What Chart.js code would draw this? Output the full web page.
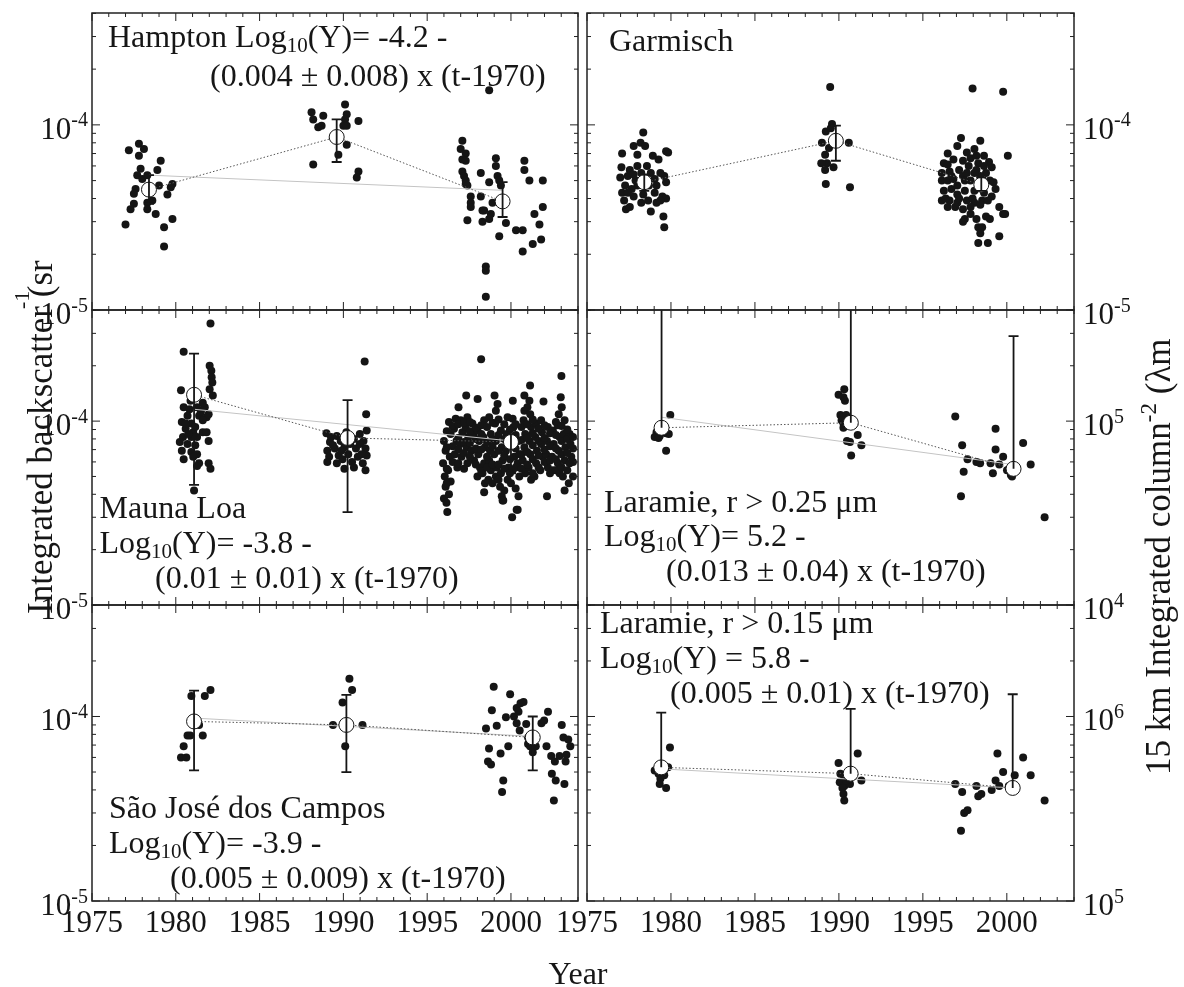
<!DOCTYPE html>
<html>
<head>
<meta charset="utf-8">
<script src="https://cdn.jsdelivr.net/npm/chart.js@4.4.0/dist/chart.umd.min.js"></script>
<style>
  html, body { margin: 0; padding: 0; background: #fff; }
  #wrap { position: relative; width: 1184px; height: 987px; }
  #wrap canvas { position: absolute; left: 0; top: 0; }
</style>
</head>
<body>
<div id="wrap">
  <canvas id="hampton" width="1184" height="987"></canvas>
  <canvas id="garmisch" width="1184" height="987"></canvas>
  <canvas id="maunaloa" width="1184" height="987"></canvas>
  <canvas id="laramie25" width="1184" height="987"></canvas>
  <canvas id="saojose" width="1184" height="987"></canvas>
  <canvas id="laramie15" width="1184" height="987"></canvas>
</div>
<script>
/* ===========================
   DATA  [year, value]
=========================== */

const yearTicks = [1975, 1980, 1985, 1990, 1995, 2000];

// Hampton, integrated backscatter (sr-1)
const hamptonPoints = [
  [1977.2,7.3e-5],[1977.8,7.9e-5],[1977.8,6.8e-5],[1978.1,7.4e-5],[1977.9,5.8e-5],[1977.7,5.35e-5],[1978.0,5.1e-5],
  [1977.6,4.5e-5],[1977.5,4.25e-5],[1977.5,3.75e-5],[1977.3,3.5e-5],[1977.0,2.9e-5],[1978.3,5.35e-5],[1978.9,5.7e-5],
  [1979.1,6.4e-5],[1979.0,4.7e-5],[1979.5,4.2e-5],[1979.8,4.8e-5],[1979.7,4.6e-5],[1979.8,3.1e-5],[1979.3,2.8e-5],
  [1979.3,2.2e-5],[1978.3,3.8e-5],[1978.6,3.9e-5],[1978.3,3.5e-5],[1978.8,3.3e-5],
  [1988.1,1.17e-4],[1988.2,1.07e-4],[1988.8,1.12e-4],[1988.5,9.7e-5],[1988.7,9.9e-5],[1990.1,1.29e-4],[1990.2,1.14e-4],
  [1990.1,1.07e-4],[1990.0,9.9e-5],[1990.2,9.9e-5],[1990.9,1.05e-4],[1990.2,7.8e-5],[1989.7,6.9e-5],[1988.2,6.1e-5],
  [1990.9,5.6e-5],[1990.8,5.2e-5],
  [1997.1,8.2e-5],[1997.0,7.4e-5],[1997.3,7.0e-5],[1997.1,6.5e-5],[1997.3,6.4e-5],[1997.1,5.6e-5],[1997.2,5.3e-5],
  [1997.3,5.0e-5],[1997.3,4.8e-5],[1997.4,4.7e-5],[1997.6,4.1e-5],[1997.6,3.8e-5],[1997.6,3.6e-5],[1997.4,3.05e-5],
  [1998.2,5.5e-5],[1998.2,4.1e-5],[1998.3,3.45e-5],[1998.4,3.45e-5],[1998.3,3.0e-5],[1998.7,3.1e-5],[1998.8,3.3e-5],
  [1998.7,4.9e-5],[1999.1,6.6e-5],[1999.1,6.0e-5],[1999.2,5.3e-5],[1999.3,5.0e-5],[1999.4,4.7e-5],[1998.9,3.8e-5],
  [1999.7,2.95e-5],[1999.3,2.5e-5],[1998.5,1.72e-5],[1998.5,1.63e-5],[1998.5,1.18e-5],[1998.7,1.54e-4],[2000.8,6.4e-5],
  [2000.8,5.7e-5],[2001.1,5.0e-5],[2001.9,5.0e-5],[2001.9,3.6e-5],[2001.4,3.3e-5],[2001.7,2.9e-5],[2000.7,2.7e-5],
  [2000.3,2.7e-5],[2000.7,2.07e-5],[2001.3,2.27e-5],[2001.8,2.4e-5]
];
const hamptonMeans = [[1978.4,4.47e-5],[1989.6,8.6e-5],[1999.5,3.86e-5]];
const hamptonErrors = [[3.75e-5,5.35e-5],[6.3e-5,1.07e-4],[3.18e-5,4.9e-5]];
const hamptonTrend = [[1978.4,5.35e-5],[1999.5,4.43e-5]];

// Garmisch
const garmischPoints = [
  [1978.35,9.1e-5],[1977.78,7.7e-5],[1978.19,8.0e-5],[1978.0,6.9e-5],[1977.09,7.0e-5],[1977.05,5.9e-5],[1976.98,5.2e-5],
  [1977.43,5.3e-5],[1977.27,4.7e-5],[1977.09,4.3e-5],[1977.21,3.9e-5],[1977.32,3.5e-5],[1977.55,3.6e-5],[1977.78,4.1e-5],
  [1978.0,4.7e-5],[1978.23,5.5e-5],[1978.57,6.0e-5],[1978.8,5.5e-5],[1979.03,5.1e-5],[1979.26,6.5e-5],[1979.71,7.2e-5],
  [1979.83,7.1e-5],[1979.6,5.3e-5],[1979.71,4.9e-5],[1979.49,4.1e-5],[1979.71,4.0e-5],[1979.14,3.8e-5],[1978.8,3.4e-5],
  [1978.64,3.9e-5],[1978.35,4.2e-5],[1977.89,5.0e-5],[1977.66,4.5e-5],[1977.55,5.7e-5],[1979.14,4.7e-5],[1979.37,5.5e-5],
  [1979.55,3.2e-5],[1979.6,2.8e-5],[1978.92,6.8e-5],[1978.46,7.7e-5],[1978.69,4.7e-5],[1978.23,3.8e-5],[1979.03,4.3e-5],
  [1978.0,6.0e-5],[1977.43,4.3e-5],[1977.78,5.4e-5],[1979.37,3.9e-5],[1978.51,5.0e-5],
  [1989.48,1.6e-4],[1989.59,1.01e-4],[1989.22,9.2e-5],[1989.52,9.6e-5],[1988.99,8.0e-5],[1990.59,8.0e-5],[1989.18,6.9e-5],
  [1989.29,6.2e-5],[1988.95,6.2e-5],[1989.18,5.7e-5],[1989.68,5.9e-5],[1989.22,4.8e-5],[1990.66,4.6e-5],[1989.41,7.5e-5],
  [1997.96,1.57e-4],[1999.78,1.51e-4],[2000.06,6.8e-5],
  [1997.27,8.5e-5],[1998.42,8.2e-5],[1997.05,7.7e-5],[1998.07,7.4e-5],[1998.64,6.8e-5],[1996.48,7.0e-5],[1997.62,7.1e-5],
  [1998.94,6.3e-5],[1999.1,5.9e-5],[1996.25,6.2e-5],[1996.82,6.5e-5],[1997.39,6.4e-5],[1997.84,6.6e-5],[1998.3,6.2e-5],
  [1996.13,5.5e-5],[1996.59,5.6e-5],[1997.16,5.7e-5],[1997.73,6.0e-5],[1998.19,5.7e-5],[1998.76,5.5e-5],[1999.21,4.9e-5],
  [1996.13,5.0e-5],[1996.48,5.0e-5],[1996.82,5.1e-5],[1997.39,5.3e-5],[1997.84,5.0e-5],[1998.42,5.3e-5],[1998.99,5.0e-5],
  [1996.25,4.4e-5],[1996.7,4.5e-5],[1997.05,4.2e-5],[1997.5,4.4e-5],[1998.07,4.4e-5],[1998.64,4.3e-5],[1996.13,3.9e-5],
  [1996.59,3.9e-5],[1997.05,3.8e-5],[1997.62,3.9e-5],[1998.07,3.8e-5],[1998.53,3.9e-5],[1999.1,4.1e-5],[1996.48,3.6e-5],
  [1996.93,3.6e-5],[1997.39,3.5e-5],[1997.84,3.6e-5],[1998.42,3.7e-5],[1999.55,3.6e-5],[1999.78,3.3e-5],[1999.9,3.3e-5],
  [1997.5,3.1e-5],[1997.39,3.0e-5],[1998.19,3.1e-5],[1998.76,3.2e-5],[1998.99,3.1e-5],[1998.3,2.8e-5],[1998.53,2.8e-5],
  [1998.42,2.6e-5],[1998.3,2.3e-5],[1998.87,2.3e-5],[1999.55,2.5e-5],[1997.84,3.3e-5],[1997.16,4.0e-5],[1996.36,4.0e-5],
  [1998.87,3.9e-5],[1999.33,4.5e-5],[1998.07,5.5e-5],[1997.5,5.0e-5],[1998.53,4.7e-5],[1996.7,5.3e-5],[1997.05,4.7e-5],
  [1997.96,4.0e-5],[1996.48,6.1e-5],[1997.62,5.5e-5],[1998.19,6.8e-5],[1998.64,6.0e-5]
];
const garmischMeans = [[1978.41,4.9e-5],[1989.82,8.2e-5],[1998.48,4.75e-5]];
const garmischErrors = [[4.4e-5,5.4e-5],[6.4e-5,9.9e-5],[4.4e-5,5.2e-5]];

// Mauna Loa
const maunaLoaPoints = [
  [1982.07,3.39e-4],[1980.47,2.38e-4],[1982.02,2.0e-4],[1982.12,1.88e-4],[1982.14,1.73e-4],[1982.18,1.62e-4],[1982.02,1.49e-4],
  [1980.31,1.47e-4],[1982.21,1.38e-4],[1980.47,1.19e-4],[1980.82,1.16e-4],[1981.27,1.19e-4],[1981.73,1.19e-4],[1980.7,1.07e-4],
  [1981.39,1.07e-4],[1981.84,1.05e-4],[1980.36,9.9e-5],[1980.93,9.7e-5],[1981.61,1.01e-4],[1981.96,1.09e-4],[1980.59,9.1e-5],
  [1981.04,8.7e-5],[1981.61,8.7e-5],[1980.43,8.2e-5],[1980.93,8.2e-5],[1981.27,8.2e-5],[1981.84,8.7e-5],[1980.24,7.7e-5],
  [1980.7,7.5e-5],[1981.16,7.4e-5],[1981.96,7.8e-5],[1980.36,6.9e-5],[1980.93,6.8e-5],[1981.27,6.6e-5],[1980.47,6.2e-5],
  [1981.04,6.4e-5],[1981.39,5.9e-5],[1981.96,5.9e-5],[1982.07,5.5e-5],[1981.27,5.7e-5],[1981.09,4.2e-5],[1980.88,1.29e-4],
  [1981.61,1.26e-4],[1981.5,1.12e-4],[1980.75,8.5e-5],[1980.59,9.7e-5],[1981.16,9.3e-5],
  [1991.27,2.11e-4],[1991.36,1.09e-4],[1988.99,8.6e-5],[1989.61,8.3e-5],[1990.18,8.7e-5],[1990.98,8.5e-5],[1991.39,8.9e-5],
  [1989.2,7.7e-5],[1989.84,7.8e-5],[1990.63,8.0e-5],[1991.2,7.8e-5],[1989.04,6.9e-5],[1989.49,7.1e-5],[1990.06,7.2e-5],
  [1990.75,7.1e-5],[1991.32,7.1e-5],[1989.15,6.4e-5],[1989.72,6.5e-5],[1990.29,6.6e-5],[1990.86,6.4e-5],[1991.39,6.5e-5],
  [1989.04,6.0e-5],[1989.61,5.9e-5],[1990.06,5.5e-5],[1990.52,6.0e-5],[1991.16,5.9e-5],[1991.32,5.4e-5],[1989.38,7.4e-5],
  [1990.41,7.5e-5],[1990.98,7.5e-5],[1989.95,6.2e-5],[1990.63,5.6e-5],[1989.26,8.2e-5],[1991.09,6.6e-5],[1989.88,6.9e-5],
  [1998.22,2.17e-4],[2003.01,1.76e-4],[2001.14,1.56e-4],[1997.33,1.38e-4],[1999.02,1.38e-4],[2000.8,1.38e-4],[2002.97,1.35e-4],
  [1998.01,1.32e-4],[1996.87,1.19e-4],[2001.94,1.28e-4],[1999.2,1.24e-4],[2000.11,1.29e-4],[2003.03,1.19e-4],[2000.98,1.19e-4],
  [2000.07,3.0e-5],[1999.54,3.7e-5],[2000.34,3.3e-5],
  [1996.0,7.8e-5],[1996.1,6.9e-5],[1995.95,5.9e-5],[1996.05,5.0e-5],[1996.1,4.4e-5],[1996.0,3.8e-5],[1996.15,3.6e-5],[1996.2,3.2e-5],
  [1996.3,9.9e-5],[1996.4,8.5e-5],[1996.35,6.4e-5],[1996.25,5.4e-5],[1996.4,4.7e-5],[1996.3,4.0e-5],
  [1996.7,1.03e-4],[1996.6,9.1e-5],[1996.75,7.8e-5],[1996.65,6.6e-5],[1996.8,5.6e-5],
  [1997.0,1.01e-4],[1997.1,8.7e-5],[1996.95,7.5e-5],[1997.05,6.4e-5],
  [1997.4,1.05e-4],[1997.3,9.3e-5],[1997.45,8.2e-5],[1997.35,7.2e-5],[1997.4,5.9e-5],
  [1997.7,9.7e-5],[1997.75,8.5e-5],[1997.65,6.9e-5],[1997.8,6.1e-5],
  [1998.0,8.9e-5],[1998.1,7.8e-5],[1998.05,6.6e-5],[1998.15,5.6e-5],[1998.0,5.0e-5],
  [1998.4,1.01e-4],[1998.35,8.2e-5],[1998.45,7.2e-5],[1998.4,5.9e-5],[1998.3,5.2e-5],[1998.45,4.6e-5],[1998.4,4.1e-5],
  [1998.7,1.05e-4],[1998.8,8.5e-5],[1998.75,6.9e-5],[1998.7,6.1e-5],[1998.8,5.4e-5],[1998.65,4.8e-5],
  [1999.1,1.14e-4],[1999.05,9.7e-5],[1999.1,7.8e-5],[1999.0,6.6e-5],[1999.15,5.6e-5],[1999.1,5.0e-5],
  [1999.4,8.9e-5],[1999.45,7.2e-5],[1999.5,6.1e-5],[1999.4,5.2e-5],[1999.35,4.4e-5],[1999.45,3.9e-5],[1999.5,3.7e-5],
  [1999.8,1.05e-4],[1999.75,8.5e-5],[1999.7,6.9e-5],[1999.85,5.6e-5],[1999.8,4.8e-5],
  [2000.1,1.03e-4],[2000.15,9.3e-5],[2000.05,7.5e-5],[2000.2,6.4e-5],[2000.1,5.4e-5],[2000.0,4.6e-5],
  [2000.45,7.8e-5],[2000.5,6.6e-5],[2000.4,5.9e-5],[2000.5,5.0e-5],[2000.45,3.9e-5],[2000.4,3.3e-5],
  [2000.8,1.14e-4],[2000.75,1.01e-4],[2000.85,8.5e-5],[2000.8,7.2e-5],[2000.7,6.1e-5],[2000.85,5.2e-5],
  [2001.1,1.29e-4],[2001.15,1.09e-4],[2001.2,9.3e-5],[2001.1,7.8e-5],[2001.15,6.6e-5],[2001.05,5.6e-5],[2001.2,4.8e-5],
  [2001.5,9.7e-5],[2001.45,8.2e-5],[2001.55,6.9e-5],[2001.5,5.9e-5],[2001.4,5.0e-5],
  [2001.8,1.01e-4],[2001.85,8.7e-5],[2001.8,7.5e-5],[2001.9,6.4e-5],[2001.75,5.4e-5],
  [2002.2,9.3e-5],[2002.15,7.8e-5],[2002.1,6.6e-5],[2002.2,5.6e-5],[2002.15,3.9e-5],
  [2002.5,8.9e-5],[2002.55,7.5e-5],[2002.45,6.4e-5],[2002.5,5.4e-5],
  [2002.85,1.09e-4],[2002.8,9.5e-5],[2002.9,8.2e-5],[2002.85,6.9e-5],[2002.8,5.9e-5],[2002.9,5.2e-5],
  [2003.2,1.01e-4],[2003.15,8.5e-5],[2003.25,7.2e-5],[2003.2,6.1e-5],[2003.1,5.0e-5],[2003.2,4.2e-5],
  [2003.5,8.5e-5],[2003.55,7.5e-5],[2003.6,6.4e-5],[2003.5,5.9e-5],[2003.45,4.6e-5],
  [1996.17,8.8e-5],[1996.17,7.2e-5],[1996.17,5.5e-5],[1996.17,4.6e-5],[1996.52,9.4e-5],[1996.52,7.3e-5],[1996.52,6.0e-5],
  [1996.86,9.6e-5],[1996.86,8.1e-5],[1996.86,7.0e-5],[1996.86,5.9e-5],[1997.2,9.8e-5],[1997.2,7.7e-5],[1997.2,6.7e-5],[1997.2,5.5e-5],
  [1997.55,9.9e-5],[1997.55,8.8e-5],[1997.55,7.6e-5],[1997.55,6.4e-5],[1997.9,9.2e-5],[1997.9,8.0e-5],[1997.9,7.1e-5],[1997.9,5.8e-5],
  [1998.23,9.5e-5],[1998.23,8.5e-5],[1998.23,7.0e-5],[1998.23,5.3e-5],[1998.57,9.3e-5],[1998.57,7.7e-5],[1998.57,6.4e-5],[1998.57,5.6e-5],
  [1998.9,9.8e-5],[1998.9,8.0e-5],[1998.9,7.3e-5],[1998.9,5.8e-5],[1998.9,4.6e-5],[1999.26,1.02e-4],[1999.26,8.4e-5],[1999.26,6.9e-5],
  [1999.26,5.8e-5],[1999.26,4.8e-5],[1999.6,9.6e-5],[1999.6,8.0e-5],[1999.6,6.5e-5],[1999.6,5.5e-5],[1999.6,4.2e-5],
  [1999.94,9.0e-5],[1999.94,7.9e-5],[1999.94,6.2e-5],[1999.94,5.2e-5],[2000.28,9.6e-5],[2000.28,8.4e-5],[2000.28,7.1e-5],
  [2000.28,5.6e-5],[2000.28,4.3e-5],[2000.63,9.3e-5],[2000.63,7.9e-5],[2000.63,6.6e-5],[2000.63,5.5e-5],
  [2000.97,9.6e-5],[2000.97,8.1e-5],[2000.97,6.8e-5],[2000.97,5.8e-5],[2001.3,1.02e-4],[2001.3,8.6e-5],[2001.3,7.4e-5],
  [2001.3,6.2e-5],[2001.3,5.2e-5],[2001.65,9.1e-5],[2001.65,7.8e-5],[2001.65,6.5e-5],[2001.65,5.6e-5],
  [2002.0,9.5e-5],[2002.0,8.1e-5],[2002.0,7.0e-5],[2002.0,6.0e-5],[2002.33,8.6e-5],[2002.33,7.3e-5],[2002.33,6.1e-5],[2002.33,5.2e-5],
  [2002.68,9.9e-5],[2002.68,8.4e-5],[2002.68,7.1e-5],[2002.68,6.2e-5],[2002.68,5.4e-5],[2003.02,9.4e-5],[2003.02,7.8e-5],
  [2003.02,6.6e-5],[2003.02,5.6e-5],[2003.36,9.0e-5],[2003.36,8.0e-5],[2003.36,6.7e-5],[2003.36,5.4e-5],
  [2003.7,8.2e-5],[2003.7,7.1e-5],[2003.7,6.0e-5],[2003.7,5.0e-5]
];
const maunaLoaMeans = [[1981.09,1.39e-4],[1990.25,8.1e-5],[2000.0,7.7e-5]];
const maunaLoaErrors = [[4.5e-5,2.33e-4],[3.2e-5,1.3e-4],[5.2e-5,8.9e-5]];
const maunaLoaTrend = [[1981.09,1.16e-4],[2000.0,7.8e-5]];

// Laramie r > 0.25 um, 15 km integrated column (cm-2)
const laramie25Points = [
  [1979.03,8.2e4],[1979.26,8.1e4],[1979.14,8.7e4],[1979.37,9.1e4],[1979.49,9.2e4],[1979.71,8.6e4],[1979.87,8.5e4],
  [1979.96,1.08e5],[1979.71,6.9e4],[1979.33,8.3e4],[1979.55,8.7e4],
  [1990.32,1.49e5],[1989.98,1.39e5],[1990.27,1.35e5],[1990.36,1.29e5],[1990.09,1.08e5],[1990.32,1.05e5],[1990.43,1.08e5],
  [1990.16,1.01e5],[1990.55,9.9e4],[1990.27,9.2e4],[1990.77,9.5e4],[1990.89,9.6e4],[1991.12,8.4e4],[1990.48,7.8e4],
  [1990.66,7.7e4],[1991.34,7.4e4],[1990.73,6.5e4],[1990.27,9.7e4],
  [1996.93,1.06e5],[1997.34,7.4e4],[1997.66,6.2e4],[1997.43,5.3e4],[1997.27,3.9e4],[1998.19,6.0e4],[1998.41,5.9e4],
  [1999.03,5.9e4],[1999.33,9.1e4],[1999.33,7.0e4],[1999.17,5.2e4],[1999.55,5.8e4],[1999.78,6.4e4],[2000.01,5.4e4],
  [2000.24,5.1e4],[2000.4,5.7e4],[2000.53,5.6e4],[2000.31,5.0e4],[2000.97,7.6e4],[2001.42,5.8e4],[2002.25,3.0e4]
];
const laramie25Means = [[1979.44,9.2e4],[1990.71,9.8e4],[2000.4,5.5e4]];
const laramie25Errors = [[9.2e4,1e6],[9.8e4,1e6],[5.5e4,2.9e5]];
const laramie25Trend = [[1979.44,1.05e5],[2000.4,5.8e4]];

// Sao Jose dos Campos
const saoJosePoints = [
  [1980.93,1.29e-4],[1981.73,1.29e-4],[1982.07,1.39e-4],[1981.39,9.0e-5],[1981.61,7.9e-5],[1980.7,7.9e-5],[1980.86,7.9e-5],
  [1980.47,6.9e-5],[1980.31,6.0e-5],[1980.63,6.0e-5],
  [1989.95,1.19e-4],[1990.36,1.6e-4],[1990.52,1.39e-4],[1989.38,9.0e-5],[1991.14,9.0e-5],[1990.11,6.9e-5],
  [1998.97,1.45e-4],[1999.95,1.32e-4],[1998.86,1.08e-4],[2000.34,1.11e-4],[2000.57,1.18e-4],[2000.75,1.2e-4],[2000.18,1.0e-4],
  [2000.45,1.06e-4],[1999.7,9.9e-5],[1999.15,8.9e-5],[1998.51,8.6e-5],[2000.34,9.2e-5],[2000.52,8.4e-5],[2000.91,9.1e-5],
  [2001.82,9.2e-5],[2001.98,9.5e-5],[2002.21,1.06e-4],[2003.03,9.0e-5],[1998.69,6.7e-5],[1999.84,6.9e-5],[1999.38,6.3e-5],
  [1998.63,5.7e-5],[1998.81,5.5e-5],[1999.54,4.5e-5],[1999.47,3.9e-5],[2001.02,7.1e-5],[2001.14,6.9e-5],[2001.3,6.4e-5],
  [2001.48,6.9e-5],[2002.12,6.9e-5],[2002.4,6.1e-5],[2002.62,5.7e-5],[2002.9,6.1e-5],[2003.13,7.7e-5],[2003.42,7.5e-5],
  [2003.54,6.9e-5],[2003.31,6.2e-5],[2003.26,5.7e-5],[2002.44,4.9e-5],[2002.67,4.5e-5],[2003.19,4.3e-5],[2002.56,3.5e-5],
  [2001.37,7.5e-5],[2001.02,7.7e-5]
];
const saoJoseMeans = [[1981.09,9.4e-5],[1990.18,9.0e-5],[2001.3,7.7e-5]];
const saoJoseErrors = [[5.1e-5,1.38e-4],[5.0e-5,1.31e-4],[5.1e-5,1.0e-4]];
const saoJoseTrend = [[1981.09,9.8e-5],[2001.3,7.8e-5]];

// Laramie r > 0.15 um
const laramie15Points = [
  [1979.03,5.1e5],[1979.26,4.9e5],[1979.37,4.6e5],[1979.55,5.0e5],[1979.33,4.3e5],[1979.71,4.1e5],[1979.83,5.3e5],
  [1979.94,6.8e5],[1979.6,4.8e5],
  [1989.98,5.6e5],[1990.09,4.9e5],[1990.32,4.7e5],[1990.55,4.6e5],[1990.82,4.8e5],[1990.05,4.4e5],[1990.32,4.2e5],
  [1990.66,4.3e5],[1990.21,4.1e5],[1990.27,3.8e5],[1990.32,3.5e5],[1991.12,6.3e5],[1991.34,4.5e5],[1990.43,4.5e5],
  [1996.93,4.3e5],[1997.34,3.9e5],[1997.46,3.0e5],[1997.66,3.1e5],[1997.27,2.4e5],[1998.19,4.2e5],[1998.3,3.7e5],
  [1998.48,3.8e5],[1999.1,4.0e5],[1999.33,4.5e5],[1999.44,6.3e5],[1999.55,4.2e5],[1999.78,5.0e5],[2000.12,4.2e5],
  [2000.24,4.2e5],[2000.47,4.8e5],[2000.97,6.0e5],[2001.42,4.8e5],[2002.25,3.5e5]
];
const laramie15Means = [[1979.42,5.3e5],[1990.7,4.9e5],[2000.35,4.1e5]];
const laramie15Errors = [[5.3e5,1.05e6],[4.9e5,1.1e6],[4.1e5,1.32e6]];
const laramie15Trend = [[1979.42,5.2e5],[2000.35,4.1e5]];

/* ===========================
   PANELS
=========================== */

const FONT = '"Liberation Serif", "Times New Roman", serif';
const INK = "#161616";

const panels = [
  { id: "hampton", box: [92, 13, 578, 310], yMin: 1e-5, yMax: 4.02e-4,
    points: hamptonPoints, means: hamptonMeans, errors: hamptonErrors, trend: hamptonTrend,
    leftLabels: [-4, -5], rightLabels: [], xLabels: false,
    notes: [
      { x: 108, y: 46.5, parts: [["Hampton Log"], ["10", "sub"], ["(Y)= -4.2 -"]] },
      { x: 210, y: 86, parts: [["(0.004 \u00b1 0.008) x (t-1970)"]] }
    ] },
  { id: "garmisch", box: [587, 13, 1074, 310], yMin: 1e-5, yMax: 4.02e-4,
    points: garmischPoints, means: garmischMeans, errors: garmischErrors, trend: null,
    leftLabels: [], rightLabels: [-4, -5], xLabels: false,
    notes: [{ x: 609, y: 51, parts: [["Garmisch"]] }] },
  { id: "maunaloa", box: [92, 310, 578, 605], yMin: 1e-5, yMax: 4.02e-4,
    points: maunaLoaPoints, means: maunaLoaMeans, errors: maunaLoaErrors, trend: maunaLoaTrend,
    leftLabels: [-4, -5], rightLabels: [], xLabels: false,
    notes: [
      { x: 99.5, y: 518, parts: [["Mauna Loa"]] },
      { x: 99.5, y: 553, parts: [["Log"], ["10", "sub"], ["(Y)= -3.8 -"]] },
      { x: 155, y: 588, parts: [["(0.01 \u00b1 0.01) x (t-1970)"]] }
    ] },
  { id: "laramie25", box: [587, 310, 1074, 605], yMin: 1e4, yMax: 4.02e5,
    points: laramie25Points, means: laramie25Means, errors: laramie25Errors, trend: laramie25Trend,
    leftLabels: [], rightLabels: [5, 4], xLabels: false,
    notes: [
      { x: 604, y: 512, parts: [["Laramie, r > 0.25 \u03bcm"]] },
      { x: 604, y: 546, parts: [["Log"], ["10", "sub"], ["(Y)= 5.2 -"]] },
      { x: 666, y: 581, parts: [["(0.013 \u00b1 0.04) x (t-1970)"]] }
    ] },
  { id: "saojose", box: [92, 605, 578, 901], yMin: 1e-5, yMax: 4.02e-4,
    points: saoJosePoints, means: saoJoseMeans, errors: saoJoseErrors, trend: saoJoseTrend,
    leftLabels: [-4, -5], rightLabels: [], xLabels: true,
    notes: [
      { x: 109, y: 818, parts: [["S\u00e3o Jos\u00e9 dos Campos"]] },
      { x: 109, y: 853, parts: [["Log"], ["10", "sub"], ["(Y)= -3.9 -"]] },
      { x: 170, y: 888, parts: [["(0.005 \u00b1 0.009) x (t-1970)"]] }
    ] },
  { id: "laramie15", box: [587, 605, 1074, 901], yMin: 1e5, yMax: 4.02e6,
    points: laramie15Points, means: laramie15Means, errors: laramie15Errors, trend: laramie15Trend,
    leftLabels: [], rightLabels: [6, 5], xLabels: true, titles: true,
    notes: [
      { x: 600, y: 633, parts: [["Laramie, r > 0.15 \u03bcm"]] },
      { x: 600, y: 668, parts: [["Log"], ["10", "sub"], ["(Y) = 5.8 -"]] },
      { x: 670, y: 703, parts: [["(0.005 \u00b1 0.01) x (t-1970)"]] }
    ] }
];

/* ===========================
   TEXT HELPERS
=========================== */

function partFont(size, kind) {
  return (kind ? Math.round(size * 0.65) : size) + "px " + FONT;
}

function measureParts(ctx, parts, size) {
  let w = 0;
  parts.forEach(([t, kind]) => { ctx.font = partFont(size, kind); w += ctx.measureText(t).width; });
  return w;
}

function drawParts(ctx, parts, x, y, size) {
  let cx = x;
  ctx.textAlign = "left";
  ctx.textBaseline = "alphabetic";
  parts.forEach(([t, kind]) => {
    ctx.font = partFont(size, kind);
    const dy = kind === "sub" ? size * 0.16 : kind === "sup" ? -size * 0.4 : 0;
    ctx.fillText(t, cx, y + dy);
    cx += ctx.measureText(t).width;
  });
}

function drawPower(ctx, exp, x, py, align) {
  const parts = [["10"], [String(exp), "sup"]];
  const w = measureParts(ctx, parts, 31);
  drawParts(ctx, parts, align === "right" ? x - w : x, py + 14, 31);
}

function drawTitles(ctx) {
  ctx.save();
  ctx.translate(52, 614);
  ctx.rotate(-Math.PI / 2);
  drawParts(ctx, [["Integrated backscatter (sr"]], 0, 0, 35);
  ctx.font = "22px " + FONT;
  ctx.fillText("-1", 305, -23);
  ctx.restore();

  ctx.save();
  ctx.translate(1170, 775);
  ctx.rotate(-Math.PI / 2);
  drawParts(ctx, [["15 km Integrated column"], ["-2", "sup"], [" (\u03bbm"]], 0, 0, 35);
  ctx.restore();

  ctx.font = "32px " + FONT;
  ctx.textAlign = "center";
  ctx.fillText("Year", 578, 984);
}

/* ===========================
   PANEL DECORATION PLUGIN
=========================== */

function decor(p) {
  return {
    id: "decor_" + p.id,
    afterDatasetsDraw(chart) {
      const { ctx, chartArea: a, scales: { x, y } } = chart;
      ctx.save();
      ctx.beginPath();
      ctx.rect(a.left, a.top, a.right - a.left, a.bottom - a.top);
      ctx.clip();
      ctx.strokeStyle = INK;
      ctx.lineWidth = 1.8;
      p.means.forEach(([yr, v], i) => {
        const [lo, hi] = p.errors[i];
        const px = x.getPixelForValue(yr);
        const pt = y.getPixelForValue(hi);
        const pb = y.getPixelForValue(lo);
        ctx.beginPath();
        ctx.moveTo(px, pt); ctx.lineTo(px, pb);
        ctx.moveTo(px - 5, pt); ctx.lineTo(px + 5, pt);
        if (lo < v) { ctx.moveTo(px - 5, pb); ctx.lineTo(px + 5, pb); }
        ctx.stroke();
      });
      ctx.restore();
    },
    afterDraw(chart) {
      const { ctx, chartArea: a, scales: { x, y } } = chart;
      ctx.save();
      ctx.strokeStyle = "#222";
      ctx.fillStyle = INK;

      // frame
      ctx.lineWidth = 1.5;
      ctx.strokeRect(a.left, a.top, a.right - a.left, a.bottom - a.top);

      // ticks, pointing inwards on all four sides
      ctx.lineWidth = 1;
      ctx.beginPath();
      for (let yr = 1975; yr <= 2004; yr++) {
        const px = x.getPixelForValue(yr);
        const len = yr % 5 === 0 ? 8 : 4;
        ctx.moveTo(px, a.bottom); ctx.lineTo(px, a.bottom - len);
        ctx.moveTo(px, a.top); ctx.lineTo(px, a.top + len);
      }
      const d0 = Math.round(Math.log10(p.yMin));
      for (let d = d0; d <= d0 + 1; d++) {
        for (let m = 1; m <= 9; m++) {
          const v = m * Math.pow(10, d);
          if (v > p.yMax * 1.001) continue;
          const py = y.getPixelForValue(v);
          const len = m === 1 ? 8 : 4;
          ctx.moveTo(a.left, py); ctx.lineTo(a.left + len, py);
          ctx.moveTo(a.right, py); ctx.lineTo(a.right - len, py);
        }
      }
      ctx.stroke();

      // tick labels
      p.leftLabels.forEach(e => drawPower(ctx, e, 88, y.getPixelForValue(Math.pow(10, e)), "right"));
      p.rightLabels.forEach(e => drawPower(ctx, e, 1083, y.getPixelForValue(Math.pow(10, e)), "left"));
      if (p.xLabels) {
        ctx.font = "31px " + FONT;
        ctx.textAlign = "center";
        ctx.textBaseline = "alphabetic";
        yearTicks.forEach(yr => ctx.fillText(String(yr), x.getPixelForValue(yr), 932));
      }

      // station names and fits
      p.notes.forEach(n => drawParts(ctx, n.parts, n.x, n.y, 32));

      if (p.titles) drawTitles(ctx);
      ctx.restore();
    }
  };
}

/* ===========================
   CHARTS
=========================== */

const toXY = arr => arr.map(([x, y]) => ({ x, y }));

panels.forEach(p => {
  const [l, t, r, b] = p.box;
  const datasets = [
    { data: toXY(p.means), order: 1, pointRadius: 7.5, pointStyle: "circle",
      backgroundColor: "#fff", borderColor: INK, borderWidth: 1 },
    { data: toXY(p.means), order: 2, showLine: true, pointRadius: 0,
      borderColor: "#555", borderWidth: 1, borderDash: [1.5, 2] },
    { data: toXY(p.points), order: 4, pointRadius: 4, pointStyle: "circle",
      backgroundColor: "#151515", borderWidth: 0 }
  ];
  if (p.trend) {
    datasets.push({ data: toXY(p.trend), order: 3, showLine: true, pointRadius: 0,
      borderColor: "#c4c4c4", borderWidth: 1 });
  }

  new Chart(document.getElementById(p.id), {
    type: "scatter",
    data: { datasets },
    options: {
      responsive: false,
      animation: false,
      events: [],
      layout: { padding: { left: l, top: t, right: 1184 - r, bottom: 987 - b } },
      plugins: { legend: { display: false }, tooltip: { enabled: false } },
      scales: {
        x: { type: "linear", min: 1975, max: 2004, display: false },
        y: { type: "logarithmic", min: p.yMin, max: p.yMax, display: false }
      }
    },
    plugins: [decor(p)]
  });
});
</script>
</body>
</html>
